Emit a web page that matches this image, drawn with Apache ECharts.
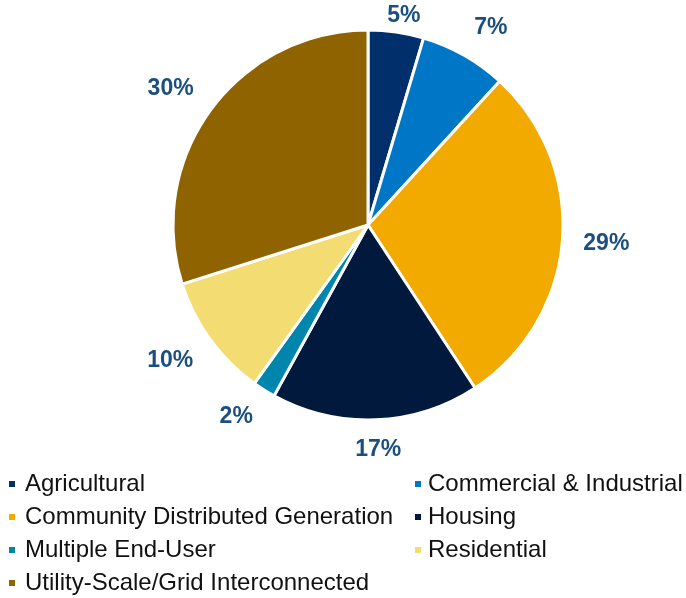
<!DOCTYPE html>
<html>
<head>
<meta charset="utf-8">
<script src="https://cdn.jsdelivr.net/npm/echarts@6/dist/echarts.min.js"></script>
<style>html,body{margin:0;padding:0;background:#fff;}#chart{width:686px;height:598px;}</style>
</head>
<body>
<div id="chart"></div>
<script>
const categories = ['Agricultural', 'Commercial & Industrial', 'Community Distributed Generation', 'Housing', 'Multiple End-User', 'Residential', 'Utility-Scale/Grid Interconnected'];
const shares = [4.6, 7.2, 28.95, 17.25, 1.9, 10.2, 29.9];
const colors = ['#002F6C', '#0076C6', '#F2A900', '#00193D', '#0085AD', '#F3DC72', '#8F6400'];
const legendLeft = ['Agricultural', 'Community Distributed Generation', 'Multiple End-User', 'Utility-Scale/Grid Interconnected'];
const legendRight = ['Commercial & Industrial', 'Housing', 'Residential'];

const CX = 368, CY = 225, R = 195, GAP = 21;
const total = shares.reduce((a, b) => a + b, 0);
const mids = [];
let acc = 0;
shares.forEach(v => { mids.push((acc + v / 2) / total * Math.PI * 2); acc += v; });
const clamp1 = v => Math.max(-1, Math.min(1, v / 0.5));

const chart = echarts.init(document.getElementById('chart'), null, {renderer: 'canvas'});
const legendCommon = {
  orient: 'vertical', icon: 'rect', itemWidth: 8, itemHeight: 8, itemGap: 9,
  padding: 0, selectedMode: false
};
const legendText = {fontFamily: 'Liberation Sans, Arial, sans-serif', fontSize: 24, lineHeight: 24, color: '#111'};
chart.setOption({
  animation: false,
  color: colors,
  legend: [
    Object.assign({}, legendCommon, {
      left: 7, top: 472, data: legendLeft,
      textStyle: Object.assign({}, legendText, {padding: [0, 0, 0, 4]})
    }),
    Object.assign({}, legendCommon, {
      left: 413, top: 472, data: legendRight,
      textStyle: Object.assign({}, legendText, {padding: [0, 0, 0, 1]})
    })
  ],
  series: [{
    type: 'pie',
    center: [CX, CY],
    radius: [0, R],
    startAngle: 90,
    clockwise: true,
    avoidLabelOverlap: false,
    itemStyle: {borderColor: '#fff', borderWidth: 3},
    label: {
      show: true, position: 'outside',
      formatter: p => Math.round(p.value) + '%',
      fontFamily: 'Liberation Sans, Arial, sans-serif', fontWeight: 'bold', fontSize: 23, color: '#1B4F7E'
    },
    labelLine: {show: false},
    labelLayout: function (params) {
      const a = mids[params.dataIndex];
      const ux = Math.sin(a), uy = -Math.cos(a);
      const hw = params.labelRect.width / 2, hh = 9;
      const ax = CX + ux * (R + GAP), ay = CY + uy * (R + GAP);
      const x = ax + hw * clamp1(ux);
      let y = ay + hh * clamp1(uy);
      y = Math.max(y, 7 + hh);
      return {x: x, y: y, align: 'center', verticalAlign: 'middle'};
    },
    emphasis: {disabled: true},
    data: categories.map((c, i) => ({name: c, value: shares[i]}))
  }]
});
</script>
</body>
</html>
